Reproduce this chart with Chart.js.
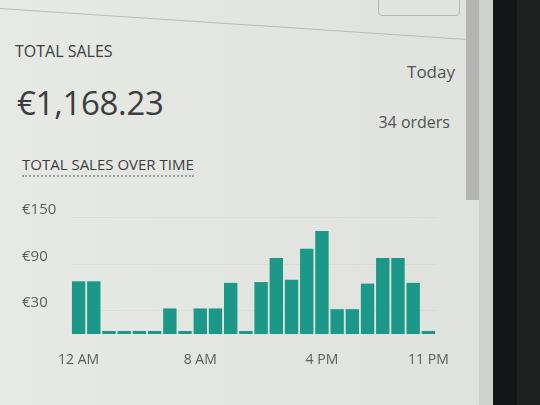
<!DOCTYPE html>
<html>
<head>
<meta charset="utf-8">
<script src="https://cdn.jsdelivr.net/npm/chart.js@4/dist/chart.umd.min.js"></script>
<style>
  html, body { margin:0; padding:0; }
  body { width:540px; height:405px; overflow:hidden; position:relative;
         background: linear-gradient(90deg, #e7e9e5 0%, #e2e4e0 60%, #dfe1dd 100%);
         font-family: "Open Sans", "Noto Sans", sans-serif; color:#3b3e3d; }
  .abs { position:absolute; white-space:nowrap; }
  #topline { position:absolute; left:0; top:8px; width:472px; height:1px; background:#b9bbb8;
             transform-origin:0 0; transform: rotate(3.8deg); }
  #topbox { position:absolute; left:378px; top:-8px; width:80px; height:22px; border:1px solid #b5b7b4; border-radius:4px; }
  #scroll { position:absolute; left:466px; top:0; width:13px; height:200px; background:#b4b5b2; }
  #edge { position:absolute; left:479px; top:0; width:14px; height:405px; background:#cfd1ce; }
  #bezel { position:absolute; left:493px; top:0; width:47px; height:405px; background:#141516; }
  #bezel2 { position:absolute; left:517px; top:0; width:23px; height:405px; background:#1f2020; }
  #t1 { left:15px; top:40px; font-size:16px; }
  #amount { left:17px; top:80px; font-size:33px; font-weight:400; letter-spacing:-0.3px; }
  #today { right:85px; top:60px; font-size:17px; color:#505352; }
  #orders { right:90px; top:111px; font-size:16px; color:#505352; }
  #t2 { left:22px; top:154px; font-size:15px; padding-bottom:1px; border-bottom:2px dotted #9a9d9b; }
  #wrap { position:absolute; left:0; top:185px; width:466px; height:190px; }
</style>
</head>
<body>
<div id="topline"></div>
<div id="topbox"></div>
<div id="scroll"></div>
<div id="edge"></div>
<div id="bezel"></div>
<div id="bezel2"></div>
<div class="abs" id="t1">TOTAL SALES</div>
<div class="abs" id="amount">€1,168.23</div>
<div class="abs" id="today">Today</div>
<div class="abs" id="orders">34 orders</div>
<div class="abs" id="t2">TOTAL SALES OVER TIME</div>
<div id="wrap"><canvas id="c" width="466" height="190"></canvas></div>
<script>
const hours = ["12 AM","1 AM","2 AM","3 AM","4 AM","5 AM","6 AM","7 AM","8 AM","9 AM","10 AM","11 AM",
               "12 PM","1 PM","2 PM","3 PM","4 PM","5 PM","6 PM","7 PM","8 PM","9 PM","10 PM","11 PM"];
const sales = [68, 68, 0, 0, 0, 0, 33, 0, 33, 33, 66, 0,
               67, 98, 70, 110, 133, 32, 32, 65, 98, 98, 66, 3];
const shownXTicks = ["12 AM","8 AM","4 PM","11 PM"];
const yTickValues = [30, 90, 150];
const currency = "€";

new Chart(document.getElementById('c'), {
  type: 'bar',
  data: {
    labels: hours,
    datasets: [{
      data: sales,
      backgroundColor: '#1b9887',
      borderWidth: 0,
      barPercentage: 0.88,
      categoryPercentage: 1.0,
      minBarLength: 3
    }]
  },
  options: {
    responsive: false,
    animation: false,
    layout: { padding: { left: 22, right: 30, top: 25, bottom: 0 } },
    plugins: { legend: { display: false }, tooltip: { enabled: false } },
    scales: {
      x: {
        afterFit: (s) => { s.height = 41; },
        grid: { display: false },
        border: { display: false },
        ticks: {
          autoSkip: false, maxRotation: 0, padding: 10,
          color: '#5a5d5c',
          font: { family: '"Open Sans", "Noto Sans", sans-serif', size: 14 },
          callback: function(v, i) { return shownXTicks.includes(hours[i]) ? hours[i] : ''; }
        }
      },
      y: {
        min: 0, max: 160,
        afterBuildTicks: (s) => { s.ticks = yTickValues.map(v => ({ value: v })); },
        afterFit: (s) => { s.width = 49; },
        grid: { color: 'rgba(150,155,150,0.12)', drawTicks: false },
        border: { display: false },
        ticks: {
          crossAlign: 'far', padding: 0, labelOffset: -8,
          color: '#5a5d5c',
          font: { family: '"Open Sans", "Noto Sans", sans-serif', size: 15 },
          callback: (v) => currency + v
        }
      }
    }
  }
});
</script>
</body>
</html>
